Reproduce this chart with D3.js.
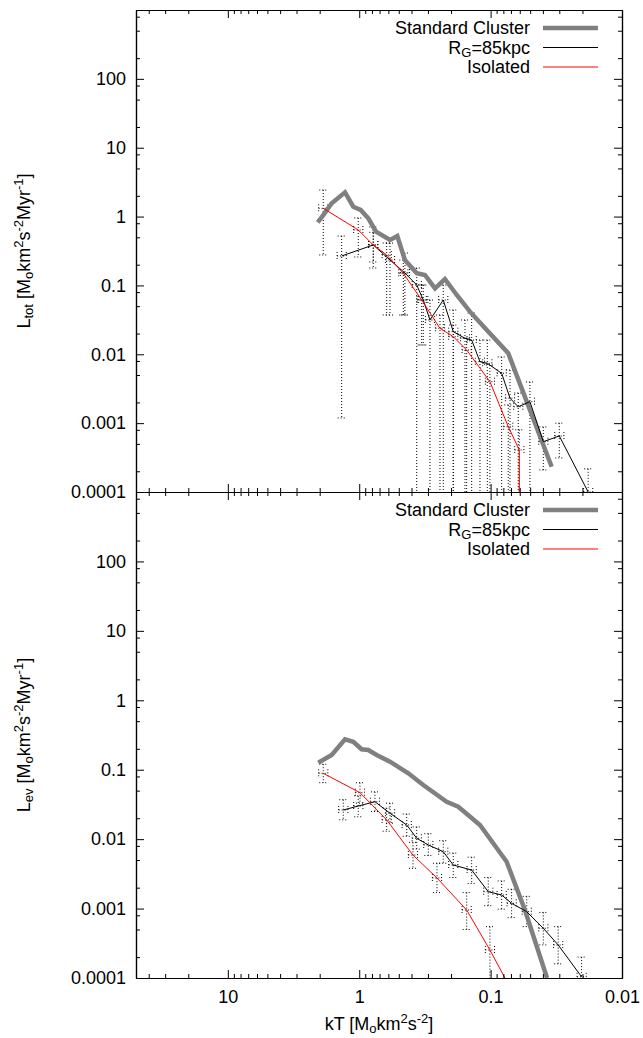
<!DOCTYPE html>
<html>
<head>
<meta charset="utf-8">
<script src="https://cdn.jsdelivr.net/npm/d3@7"></script>
<style>
  body { margin: 0; background: #fff; }
  text { font-family: "Liberation Sans", Arial, sans-serif; }
</style>
</head>
<body>
<div id="chart"></div>
<script>
// ---- data: top panel (L_tot) ----
const stdTopKT = [2.07, 1.878, 1.62, 1.283, 1.11, 0.975, 0.853, 0.745, 0.583, 0.513, 0.449, 0.365, 0.316, 0.265, 0.2226, 0.181, 0.1436, 0.107, 0.0734, 0.0343];
const stdTopL  = [0.826, 1.05, 1.56, 2.25, 1.39, 1.25, 0.944, 0.603, 0.457, 0.522, 0.234, 0.15, 0.142, 0.0909, 0.124, 0.0726, 0.0416, 0.0225, 0.01034, 0.000233];

const rgTopKT = [1.36, 0.782, 0.583, 0.449, 0.365, 0.3255, 0.2894, 0.2293, 0.1924, 0.1567, 0.1394, 0.1205, 0.106, 0.0824, 0.0712, 0.0616, 0.0502, 0.0397, 0.030, 0.0181];
const rgTopL  = [0.2677, 0.387, 0.234, 0.1516, 0.1015, 0.0614, 0.0315, 0.0614, 0.0213, 0.0171, 0.0161, 0.0078, 0.0074, 0.0053, 0.0023, 0.00173, 0.00205, 0.000538, 0.000651, 0.0001];
const rgTopHi = [0.522, 0.706, 0.413, 0.296, 0.179, 0.1015, 0.0614, 0.1015, 0.044, 0.0315, 0.0398, 0.0161, 0.0161, 0.00914, 0.0059, 0.00274, 0.00396, 0.00088, 0.001, 0.000217];
const rgTopLo = [0.00119, 0.179, 0.0372, 0.0372, 0, 0.01365, 0, 0, 0, 0, 0, 0, 0, 0, 0, 0, 0, 0.000209, 0.000312, 0];

const isoTopKT = [1.878, 1.017, 0.782, 0.618, 0.462, 0.3347, 0.2429, 0.1924, 0.1522, 0.1012, 0.0734, 0.0605, 0.0604];
const isoTopL  = [1.319, 0.638, 0.387, 0.2767, 0.150, 0.0614, 0.02385, 0.018, 0.01155, 0.0040, 0.000888, 0.000408, 0.000001];
const isoTopHi = [2.43, 0.954, 0.59, 0.413, 0.234, 0.1015, 0.0372, 0.0266, 0.0172, 0.007, 0.00184, 0.0008, null];
const isoTopLo = [0.277, 0.259, 0.219, 0.0372, 0.0372, 0.01365, 0, 0, 0, 0, 0, 0, null];

// ---- data: bottom panel (L_ev) ----
const stdBotKT = [2.05, 1.62, 1.283, 1.11, 0.958, 0.853, 0.737, 0.583, 0.423, 0.3255, 0.216, 0.1763, 0.1205, 0.0755, 0.0548, 0.0372];
const stdBotL  = [0.126, 0.163, 0.274, 0.253, 0.197, 0.192, 0.163, 0.1305, 0.0888, 0.0603, 0.0346, 0.0293, 0.016, 0.00473, 0.000954, 0.0001];

const rgBotKT = [1.322, 1.017, 0.759, 0.583, 0.435, 0.365, 0.298, 0.2293, 0.1924, 0.1394, 0.1042, 0.0824, 0.0692, 0.0531, 0.0397, 0.0306, 0.0203];
const rgBotL  = [0.0263, 0.030, 0.0346, 0.0236, 0.016, 0.0103, 0.00824, 0.0066, 0.00424, 0.00359, 0.00175, 0.00157, 0.00119, 0.000902, 0.00052, 0.000299, 0.000104];
const rgBotHi = [0.037, 0.042, 0.048, 0.033, 0.023, 0.015, 0.012, 0.0095, 0.0063, 0.0055, 0.0028, 0.0025, 0.0019, 0.0015, 0.00088, 0.00055, 0.0002];
const rgBotLo = [0.019, 0.021, 0.025, 0.017, 0.011, 0.0072, 0.0058, 0.0045, 0.0028, 0.0023, 0.0011, 0.00098, 0.00074, 0.00055, 0.0003, 0.00016, 0.00005];

const isoBotKT = [1.878, 0.987, 0.618, 0.39, 0.256, 0.1522, 0.1012, 0.0778];
const isoBotL  = [0.0888, 0.0467, 0.0189, 0.0059, 0.00276, 0.000954, 0.000253, 0.0001];
const isoBotHi = [0.12, 0.065, 0.028, 0.009, 0.0045, 0.0017, 0.00055, null];
const isoBotLo = [0.065, 0.033, 0.013, 0.0038, 0.0017, 0.0005, 0.00008, null];

// ---- ticks ----
const xTickValues = [10, 1, 0.1, 0.01];
const xTickLabels = ["10", "1", "0.1", "0.01"];
const yTickValues = [0.0001, 0.001, 0.01, 0.1, 1, 10, 100];
const yTickLabels = ["0.0001", "0.001", "0.01", "0.1", "1", "10", "100"];

const seriesNames = ["Standard Cluster", "R_G=85kpc", "Isolated"];
const seriesColors = ["#808080", "#000000", "#ff0000"];
const seriesWidths = [4.5, 1, 1];

// ---- layout ----
const width = 643, height = 1038;
const margin = {left: 136, right: 21, top: 10, bottom: 60};
const panelTops = [10, 492];
const panelBottoms = [492, 978];
const xErrDex = 0.035;

const svg = d3.select("#chart").append("svg")
    .attr("width", width)
    .attr("height", height);

const x = d3.scaleLog()
    .domain([50, 0.01])
    .range([margin.left, width - margin.right]);

// minor tick positions (2..9 on x, 2,5,8 on y)
const xMinor = [];
for (let e = -2; e <= 1; e++) for (let m = 2; m <= 9; m++) {
    const v = m * Math.pow(10, e);
    if (v <= 50 && v >= 0.01) xMinor.push(v);
}
const yMinor = [];
for (let e = -4; e <= 2; e++) [2, 5, 8].forEach(m => yMinor.push(m * Math.pow(10, e)));

function zip(kt, L, hi, lo) {
    return kt.map((d, i) => ({kT: d, L: L[i], hi: hi ? hi[i] : null, lo: lo ? lo[i] : null}));
}

function drawPanel(p, yLabelMain, yLabelSub, data, showXLabels) {
    const top = panelTops[p], bottom = panelBottoms[p];
    const y = d3.scaleLog().domain([1e-4, 1000]).range([bottom, top]);
    const yMin = y.domain()[0];
    const g = svg.append("g");

    const clipId = "clip" + p;
    svg.append("clipPath").attr("id", clipId)
        .append("rect")
        .attr("x", margin.left).attr("y", top)
        .attr("width", width - margin.left - margin.right)
        .attr("height", bottom - top);

    const plot = g.append("g").attr("clip-path", `url(#${clipId})`);

    // error bars (dotted)
    const eb = plot.append("g")
        .attr("stroke", "#000")
        .attr("stroke-width", 1)
        .attr("stroke-dasharray", "1,2")
        .attr("fill", "none");
    [data.rg, data.iso].forEach(series => {
        series.filter(d => d.hi != null).forEach(d => {
            const px = x(d.kT), py = y(d.L);
            const yHi = y(d.hi);
            const yLo = y(Math.max(d.lo, yMin / 10));
            eb.append("line").attr("x1", px).attr("x2", px).attr("y1", yHi).attr("y2", yLo);
            eb.append("line").attr("x1", px - 4).attr("x2", px + 4).attr("y1", yHi).attr("y2", yHi);
            if (d.lo > 0) eb.append("line").attr("x1", px - 4).attr("x2", px + 4).attr("y1", yLo).attr("y2", yLo);
            const xl = x(d.kT * Math.pow(10, xErrDex)), xr = x(d.kT / Math.pow(10, xErrDex));
            eb.append("line").attr("x1", xl).attr("x2", xr).attr("y1", py).attr("y2", py);
            eb.append("line").attr("x1", xl).attr("x2", xl).attr("y1", py - 4).attr("y2", py + 4);
            eb.append("line").attr("x1", xr).attr("x2", xr).attr("y1", py - 4).attr("y2", py + 4);
        });
    });

    const line = d3.line().x(d => x(d.kT)).y(d => y(d.L));
    [data.std, data.rg, data.iso].forEach((series, i) => {
        plot.append("path")
            .datum(series)
            .attr("d", line)
            .attr("fill", "none")
            .attr("stroke", seriesColors[i])
            .attr("stroke-width", seriesWidths[i])
            .attr("stroke-linejoin", "miter");
    });

    // axes (inward ticks, gnuplot style)
    const axStyle = sel => sel.selectAll("text").attr("font-size", 18).attr("fill", "#000")
        .style("font-family", "'Liberation Sans', Arial, sans-serif");

    g.append("g").attr("transform", `translate(0,${bottom})`)
        .call(d3.axisBottom(x).tickValues(xTickValues).tickSize(-8).tickSizeOuter(0).tickPadding(12)
            .tickFormat((d, i) => showXLabels ? xTickLabels[i] : ""))
        .call(axStyle);
    g.append("g").attr("transform", `translate(0,${bottom})`)
        .call(d3.axisBottom(x).tickValues(xMinor).tickSize(-4).tickSizeOuter(0).tickFormat(""));
    g.append("g").attr("transform", `translate(0,${top})`)
        .call(d3.axisTop(x).tickValues(xTickValues).tickSize(-8).tickSizeOuter(0).tickFormat(""));
    g.append("g").attr("transform", `translate(0,${top})`)
        .call(d3.axisTop(x).tickValues(xMinor).tickSize(-4).tickSizeOuter(0).tickFormat(""));

    g.append("g").attr("transform", `translate(${margin.left},0)`)
        .call(d3.axisLeft(y).tickValues(yTickValues).tickSize(-8).tickSizeOuter(0).tickPadding(10)
            .tickFormat((d, i) => yTickLabels[i]))
        .call(axStyle);
    g.append("g").attr("transform", `translate(${margin.left},0)`)
        .call(d3.axisLeft(y).tickValues(yMinor).tickSize(-4).tickSizeOuter(0).tickFormat(""));
    g.append("g").attr("transform", `translate(${width - margin.right},0)`)
        .call(d3.axisRight(y).tickValues(yTickValues).tickSize(-8).tickSizeOuter(0).tickFormat(""));
    g.append("g").attr("transform", `translate(${width - margin.right},0)`)
        .call(d3.axisRight(y).tickValues(yMinor).tickSize(-4).tickSizeOuter(0).tickFormat(""));

    g.selectAll(".domain").attr("stroke", "#000").attr("stroke-width", 1.2);

    // y label
    const yl = g.append("text")
        .attr("transform", `translate(30,${(top + bottom) / 2}) rotate(-90)`)
        .attr("text-anchor", "middle")
        .attr("font-size", 18);
    addRich(yl, [[yLabelMain, 0], [yLabelSub, 1], [" [M", 0], ["o", 1], ["km", 0], ["2", 2], ["s", 0], ["-2", 2], ["Myr", 0], ["-1", 2], ["]", 0]], 18);

    // legend
    const leg = g.append("g");
    seriesNames.forEach((name, i) => {
        const ly = top + 18 + i * 19.5;
        const t = leg.append("text")
            .attr("x", 530).attr("y", ly + 6)
            .attr("text-anchor", "end")
            .attr("font-size", 18);
        if (name.startsWith("R_G")) addRich(t, [["R", 0], ["G", 1], ["=85kpc", 0]], 18);
        else t.text(name);
        leg.append("line")
            .attr("x1", 543).attr("x2", 598)
            .attr("y1", ly).attr("y2", ly)
            .attr("stroke", seriesColors[i])
            .attr("stroke-width", seriesWidths[i]);
    });
}

// parts: [text, kind] kind 0 normal, 1 subscript, 2 superscript
function addRich(t, parts, size) {
    let shift = 0;
    parts.forEach(([s, kind]) => {
        const target = kind === 1 ? 3 : kind === 2 ? -7 : 0;
        t.append("tspan")
            .attr("dy", target - shift)
            .attr("font-size", kind ? 13 : size)
            .text(s);
        shift = target;
    });
}

drawPanel(0, "L", "tot", {
    std: zip(stdTopKT, stdTopL),
    rg: zip(rgTopKT, rgTopL, rgTopHi, rgTopLo),
    iso: zip(isoTopKT, isoTopL, isoTopHi, isoTopLo)
}, false);

drawPanel(1, "L", "ev", {
    std: zip(stdBotKT, stdBotL),
    rg: zip(rgBotKT, rgBotL, rgBotHi, rgBotLo),
    iso: zip(isoBotKT, isoBotL, isoBotHi, isoBotLo)
}, true);

// x label
const xl = svg.append("text")
    .attr("x", (margin.left + width - margin.right) / 2)
    .attr("y", 1030)
    .attr("text-anchor", "middle")
    .attr("font-size", 18);
addRich(xl, [["kT [M", 0], ["o", 1], ["km", 0], ["2", 2], ["s", 0], ["-2", 2], ["]", 0]], 18);
</script>
</body>
</html>
